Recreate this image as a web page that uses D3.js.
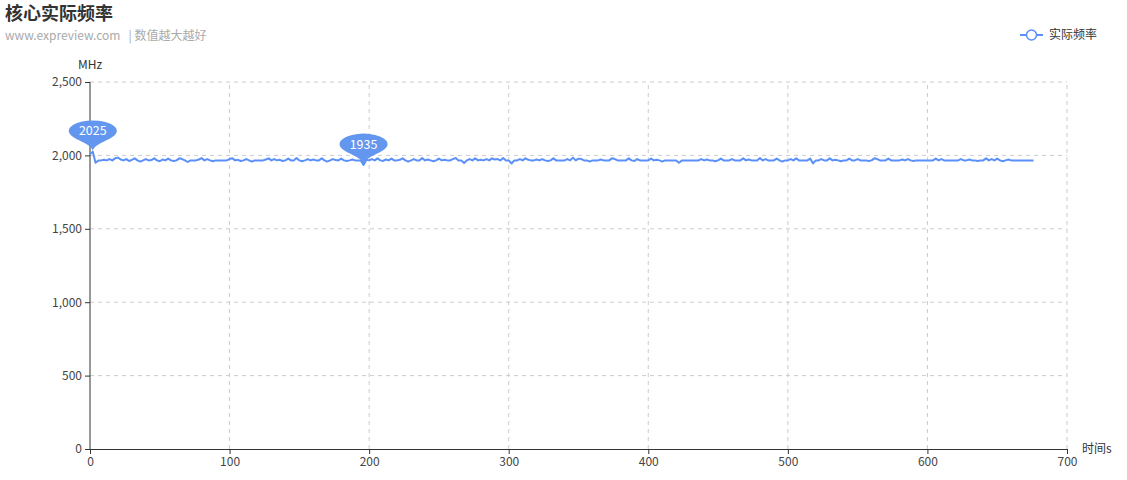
<!DOCTYPE html>
<html>
<head>
<meta charset="utf-8">
<script src="https://cdn.jsdelivr.net/npm/d3@7"></script>
<style>
  body { margin: 0; background: #fff; }
  svg { display: block; font-family: "Noto Sans CJK SC", "Microsoft YaHei", sans-serif; }
</style>
</head>
<body>
<div id="chart"></div>
<script>
// chart data
var titleText = '核心实际频率';
var subText = 'www.expreview.com   | 数值越大越好';
var seriesName = '实际频率';
var yAxisName = 'MHz';
var xAxisName = '时间s';
var xTicks = [0, 100, 200, 300, 400, 500, 600, 700];
var yTicks = [0, 500, 1000, 1500, 2000, 2500];
var timeStep = 2; // seconds between samples
var freqValues = [
  2010,2025,1950,1966,1966,1970,1966,1975,1966,1980,
  1985,1972,1966,1975,1962,1970,1980,1966,1958,1966,
  1975,1966,1968,1980,1966,1960,1972,1966,1978,1966,
  1962,1966,1980,1975,1966,1955,1966,1966,1966,1972,
  1982,1966,1975,1966,1960,1966,1966,1966,1966,1966,
  1975,1980,1966,1970,1962,1966,1975,1966,1958,1966,
  1966,1966,1966,1972,1980,1966,1975,1966,1970,1962,
  1966,1978,1966,1966,1982,1966,1960,1966,1975,1966,
  1972,1966,1966,1980,1966,1958,1966,1975,1968,1966,
  1978,1966,1962,1966,1972,1966,1966,1966,1935,1970,
  1966,1975,1966,1980,1966,1962,1972,1966,1978,1966,
  1966,1970,1980,1966,1958,1966,1975,1966,1966,1982,
  1966,1972,1966,1960,1966,1978,1966,1970,1966,1966,
  1975,1982,1966,1966,1948,1966,1975,1966,1980,1966,
  1970,1966,1975,1966,1980,1972,1975,1966,1982,1966,
  1966,1945,1966,1966,1975,1966,1980,1970,1966,1966,
  1972,1966,1975,1966,1962,1966,1980,1966,1966,1966,
  1966,1975,1966,1985,1966,1978,1975,1966,1966,1958,
  1966,1966,1966,1972,1966,1966,1966,1980,1975,1966,
  1966,1966,1966,1980,1966,1962,1975,1966,1966,1966,
  1966,1978,1966,1970,1966,1958,1966,1966,1966,1966,
  1966,1950,1966,1966,1966,1966,1966,1966,1966,1975,
  1966,1972,1966,1966,1960,1966,1978,1966,1966,1966,
  1975,1966,1966,1966,1980,1966,1972,1966,1966,1966,
  1982,1966,1975,1966,1966,1966,1978,1966,1958,1966,
  1966,1975,1966,1980,1966,1966,1966,1966,1978,1946,
  1966,1966,1975,1966,1966,1980,1966,1970,1966,1960,
  1966,1966,1978,1966,1966,1975,1966,1966,1966,1962,
  1966,1980,1975,1966,1966,1966,1978,1966,1966,1966,
  1966,1972,1966,1975,1966,1962,1966,1966,1966,1966,
  1966,1966,1966,1978,1966,1975,1966,1966,1966,1966,
  1966,1966,1975,1966,1966,1972,1966,1966,1962,1966,
  1966,1980,1966,1975,1966,1978,1966,1960,1966,1972,
  1966,1966,1966,1966,1966,1966,1966,1966,1966
];

var width = 1127, height = 480;
var margin = { left: 90, right: 60, top: 82, bottom: 31 };
var color = '#5b8ff9';

var svg = d3.select('#chart').append('svg')
  .attr('width', width)
  .attr('height', height);

var x = d3.scaleLinear().domain([0, 700]).range([margin.left, width - margin.right]);
var y = d3.scaleLinear().domain([0, 2500]).range([height - margin.bottom, margin.top]);

// title
svg.append('text')
  .attr('x', 5).attr('y', 20)
  .attr('font-size', 18).attr('font-weight', 'bold')
  .attr('fill', '#333')
  .text(titleText);
svg.append('text')
  .attr('x', 5).attr('y', 40)
  .attr('font-size', 12)
  .attr('fill', '#aaa')
  .style('white-space', 'pre')
  .text(subText);

// legend
var legend = svg.append('g').attr('transform', 'translate(1020,35)');
legend.append('line')
  .attr('x1', 0).attr('x2', 23).attr('y1', 0).attr('y2', 0)
  .attr('stroke', color).attr('stroke-width', 2);
legend.append('circle')
  .attr('cx', 11.5).attr('cy', 0).attr('r', 5)
  .attr('fill', '#fff').attr('stroke', color).attr('stroke-width', 1.5);
legend.append('text')
  .attr('x', 29).attr('y', 4)
  .attr('font-size', 12).attr('fill', '#333')
  .text(seriesName);

// grid
svg.append('g').selectAll('line')
  .data(yTicks.filter(function(d) { return d > 0; })).enter()
  .append('line')
  .attr('x1', x(0)).attr('x2', x(700))
  .attr('y1', function(d) { return y(d); })
  .attr('y2', function(d) { return y(d); })
  .attr('stroke', '#ccc').attr('stroke-dasharray', '4,4');
svg.append('g').selectAll('line')
  .data(xTicks.filter(function(d) { return d > 0; })).enter()
  .append('line')
  .attr('y1', y(0)).attr('y2', y(2500))
  .attr('x1', function(d) { return x(d); })
  .attr('x2', function(d) { return x(d); })
  .attr('stroke', '#ccc').attr('stroke-dasharray', '4,4');

// axes
var yAxis = svg.append('g')
  .attr('transform', 'translate(' + x(0) + ',0)')
  .call(d3.axisLeft(y).tickValues(yTicks).tickSize(5).tickPadding(3).tickFormat(d3.format(',')));
var xAxis = svg.append('g')
  .attr('transform', 'translate(0,' + y(0) + ')')
  .call(d3.axisBottom(x).tickValues(xTicks).tickSize(5).tickPadding(3).tickSizeOuter(0));
[yAxis, xAxis].forEach(function(a) {
  a.select('.domain').attr('stroke', '#333');
  a.selectAll('.tick line').attr('stroke', '#333');
  a.selectAll('.tick text')
    .attr('font-family', '"Noto Sans CJK SC", "Microsoft YaHei", sans-serif')
    .attr('font-size', 12).attr('fill', '#444');
});
yAxis.select('.domain').attr('d', 'M0,' + y(2500) + 'V' + y(0));

svg.append('text')
  .attr('x', x(0)).attr('y', y(2500) - 13)
  .attr('text-anchor', 'middle')
  .attr('font-size', 12).attr('fill', '#333')
  .text(yAxisName);
svg.append('text')
  .attr('x', x(700) + 15).attr('y', y(0) + 4)
  .attr('font-size', 12).attr('fill', '#333')
  .text(xAxisName);

// series line
var points = freqValues.map(function(v, i) { return { t: i * timeStep, v: v }; });
var line = d3.line()
  .x(function(d) { return x(d.t); })
  .y(function(d) { return y(d.v); });
svg.append('path')
  .datum(points)
  .attr('d', line)
  .attr('fill', 'none')
  .attr('stroke', color)
  .attr('stroke-width', 2)
  .attr('stroke-linejoin', 'round');

// max / min pins
function pinPath(h) {
  // unit pin: circle radius 1, tip at (0,0)
  var r = 1, dy = r * r / (h - r), cy = -h + r + dy;
  var angle = Math.asin(dy / r), dx = Math.cos(angle) * r;
  var tanX = Math.sin(angle), tanY = Math.cos(angle);
  var cp = r * 0.6, cp2 = r * 0.7;
  var p = d3.path();
  p.moveTo(-dx, cy + dy);
  p.arc(0, cy, r, Math.PI - angle, Math.PI * 2 + angle);
  p.bezierCurveTo(dx - tanX * cp, cy + dy + tanY * cp, 0, -cp2, 0, 0);
  p.bezierCurveTo(0, -cp2, -dx + tanX * cp, cy + dy + tanY * cp, -dx, cy + dy);
  p.closePath();
  return { d: p.toString(), cy: cy };
}
var marks = [points[d3.maxIndex(points, function(d) { return d.v; })],
             points[d3.minIndex(points, function(d) { return d.v; })]];
var pin = pinPath(3.4);
var pins = svg.append('g').selectAll('g')
  .data(marks).enter()
  .append('g')
  .attr('transform', function(d) { return 'translate(' + x(d.t) + ',' + y(d.v) + ')'; });
pins.append('path')
  .attr('d', pin.d)
  .attr('transform', 'scale(24,10.5)')
  .attr('fill', '#6396ee');
pins.append('text')
  .attr('y', pin.cy * 10.5 + 4.5)
  .attr('text-anchor', 'middle')
  .attr('font-size', 12.5).attr('fill', '#fff')
  .text(function(d) { return d.v; });
</script>
</body>
</html>
